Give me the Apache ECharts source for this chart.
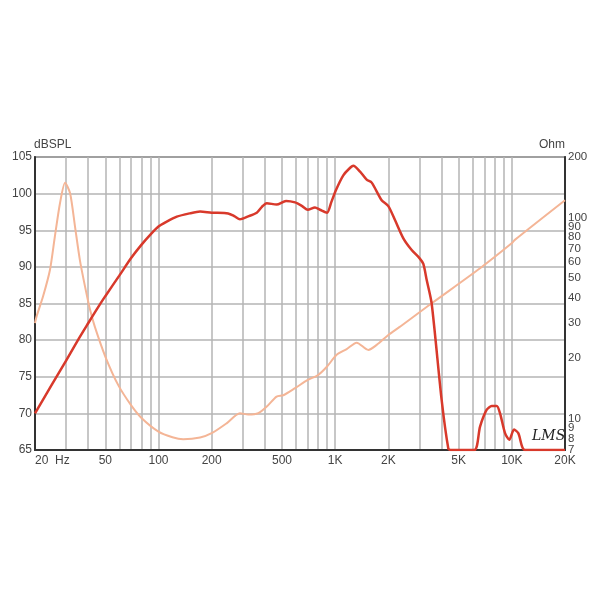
<!DOCTYPE html>
<html><head><meta charset="utf-8">
<script src="https://cdn.jsdelivr.net/npm/echarts@6/dist/echarts.min.js"></script>
<style>html,body{margin:0;padding:0;background:#fff}#c{width:600px;height:600px}</style>
</head><body><div id="c"></div>
<script>
// Frequency response (dBSPL)
const splFreq = [20,25,30,35,40,45,50,60,70,80,90,100,110,127,150,172,200,248,270,289,322,360,385,410,466,527,593,650,700,769,820,900,950,1011,1112,1200,1267,1384,1508,1610,1833,2000,2181,2432,2712,3000,3156,3298,3518,4008,4370,4500,6134,6610,7211,7697,8215,8577,9152,9679,10290,10880,11870,20000];
const splVal  = [70,74,77.2,80,82.3,84.3,86,88.8,91.2,93,94.4,95.5,96.1,96.85,97.3,97.55,97.4,97.3,96.9,96.5,96.9,97.4,98.2,98.7,98.5,99.0,98.8,98.3,97.8,98.1,97.8,97.4,98.8,100.5,102.5,103.4,103.8,103.0,101.9,101.5,99.1,98.3,96.4,93.9,92.3,91.2,90.4,88.2,85.0,71.8,65.2,65,65,68.2,70.5,71.0,71.0,70.0,67.3,66.4,67.8,67.3,65,65];
// Impedance (Ohm)
const impFreq = [20,20.4,22.2,24.3,25.9,27.7,29.6,31.6,33.7,35.9,38.4,41.0,43.6,50,59.2,69.9,80.4,100,120,138,172,200,243,289,322,367,410,466,509,593,700,800,900,1020,1162,1324,1541,1718,2000,2329,3518,6610,9980,10400,20000];
const impVal  = [29.9,32.2,40.5,54.9,80.3,117.8,149,132,90,61.5,45.4,34.8,28.7,20.4,14.7,11.7,10.07,8.64,8.1,7.92,8.07,8.48,9.5,10.66,10.5,10.66,11.5,12.9,13.1,14.2,15.6,16.5,18.2,20.8,22.2,23.9,22.0,23.3,26.1,28.7,37.5,56,74.5,77.5,122];
// Ticks / labels
const xGridTicks = [20,30,40,50,60,70,80,90,100,200,300,400,500,600,700,800,900,1000,2000,3000,4000,5000,6000,7000,8000,9000,10000,20000];
const xLabels = [20,50,100,200,500,1000,2000,5000,10000,20000];
const ohmLabels = [10,20,30,40,50,60,70,80,90,9,8,7,100,200];

const chart = echarts.init(document.getElementById('c'), null, {renderer:'canvas'});
const txt = {color:'#444', fontSize:12, fontFamily:'Liberation Sans, Arial, sans-serif'};
const txtR = {color:'#444', fontSize:11.5, fontFamily:'Liberation Sans, Arial, sans-serif'};
chart.setOption({
  animation:false,
  grid:{left:35,right:35,top:157,bottom:150,show:true,borderColor:'#333',borderWidth:1.5},
  xAxis:{type:'log',logBase:10,min:20,max:20000,
    axisLine:{show:true,lineStyle:{color:'#333',width:2}},
    axisTick:{show:false,customValues:xGridTicks},
    splitLine:{show:true,lineStyle:{color:'#b5b5b5',width:1.5}},
    axisLabel:Object.assign({customValues:xLabels,margin:5,alignMinLabel:'left',
      formatter:v=>v===20?'20  Hz':(v>=1000?(v/1000)+'K':String(v))},txt)},
  yAxis:[
    {type:'value',min:65,max:105,interval:5,name:'dBSPL',nameLocation:'end',nameGap:4,
      nameTextStyle:Object.assign({align:'left',padding:[0,0,0,-1]},txt),
      axisLine:{show:true,lineStyle:{color:'#333',width:2}},axisTick:{show:false},
      splitLine:{show:true,lineStyle:{color:'#b5b5b5',width:1.5}},
      axisLabel:Object.assign({margin:3},txt)},
    {type:'log',logBase:10,min:7,max:200,position:'right',name:'Ohm',nameLocation:'end',nameGap:4,
      nameTextStyle:Object.assign({align:'right'},txt),
      axisLine:{show:true,lineStyle:{color:'#333',width:2}},axisTick:{show:false},
      splitLine:{show:false},
      axisLabel:Object.assign({customValues:ohmLabels.map(v=>v===7?7.00001:v),margin:3,hideOverlap:false,
        formatter:v=>String(Math.round(v))},txtR)}
  ],
  graphic:[{type:'text',left:532,top:429,style:{text:'LMS',font:'italic 14px "DejaVu Serif"',fill:'#222'}}],
  series:[
    {type:'line',yAxisIndex:1,data:impFreq.map((f,i)=>[f,impVal[i]]),smooth:0.25,showSymbol:false,
      lineStyle:{color:'#f4b596',width:2},z:2},
    {type:'line',yAxisIndex:0,data:splFreq.map((f,i)=>[f,splVal[i]]),smooth:0.25,showSymbol:false,
      lineStyle:{color:'#d8392b',width:2.5},z:3}
  ]
});
</script></body></html>
